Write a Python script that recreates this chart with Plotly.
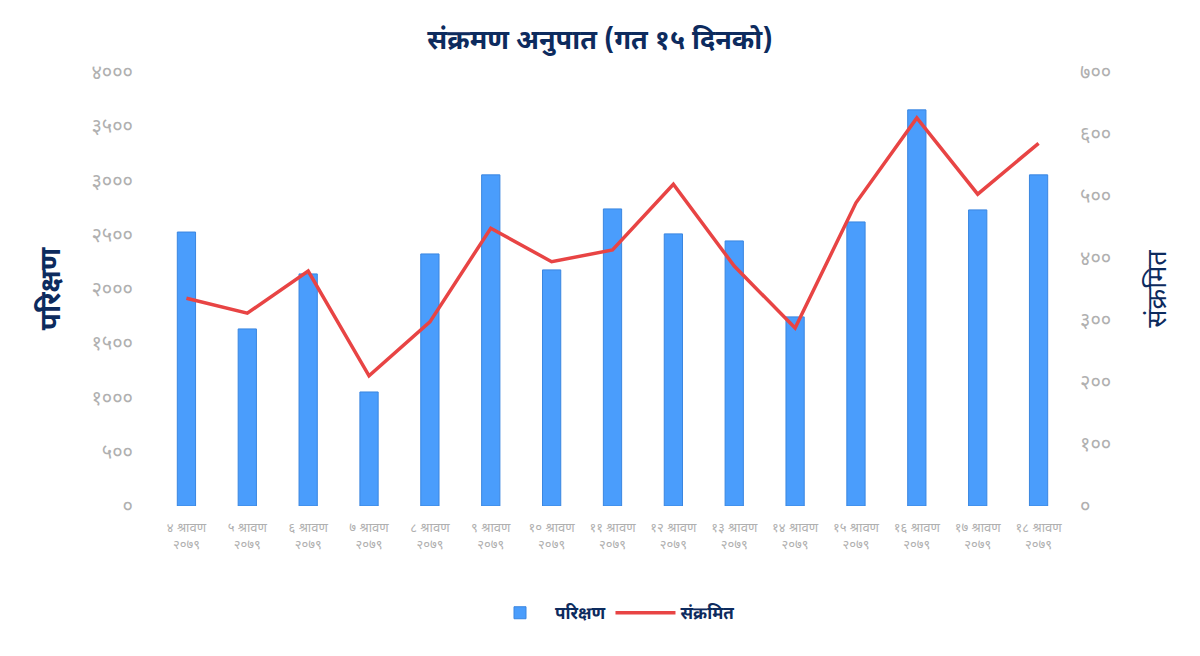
import plotly.graph_objects as go

categories = ["४ श्रावण<br>२०७९", "५ श्रावण<br>२०७९", "६ श्रावण<br>२०७९", "७ श्रावण<br>२०७९",
              "८ श्रावण<br>२०७९", "९ श्रावण<br>२०७९", "१० श्रावण<br>२०७९", "११ श्रावण<br>२०७९",
              "१२ श्रावण<br>२०७९", "१३ श्रावण<br>२०७९", "१४ श्रावण<br>२०७९", "१५ श्रावण<br>२०७९",
              "१६ श्रावण<br>२०७९", "१७ श्रावण<br>२०७९", "१८ श्रावण<br>२०७९"]
tests = [2525, 1632, 2139, 1051, 2323, 3052, 2176, 2738, 2508, 2443, 1743, 2618, 3651, 2729, 3052]
infected = [335, 311, 379, 210, 297, 448, 394, 413, 519, 387, 287, 489, 626, 503, 585]

left_vals = [0, 500, 1000, 1500, 2000, 2500, 3000, 3500, 4000]
left_text = ["०", "५००", "१०००", "१५००", "२०००", "२५००", "३०००", "३५००", "४०००"]
right_vals = [0, 100, 200, 300, 400, 500, 600, 700]
right_text = ["०", "१००", "२००", "३००", "४००", "५००", "६००", "७००"]

FONT = "Noto Sans Devanagari, Lohit Devanagari, Mangal, Noto Sans, sans-serif"
NAVY = "#0d2b5e"
GRAY = "#b0b0b0"

fig = go.Figure()
fig.add_trace(go.Bar(x=categories, y=tests, name="<b>परिक्षण</b>",
                     marker=dict(color="#4a9dfc", line=dict(color="#3a86e0", width=1)),
                     yaxis="y"))
fig.add_trace(go.Scatter(x=categories, y=infected, name="<b>संक्रमित</b>", mode="lines",
                         line=dict(color="#e84444", width=3.5), yaxis="y2"))

fig.update_layout(
    width=1200, height=656,
    paper_bgcolor="white", plot_bgcolor="white",
    margin=dict(l=156, r=131, t=72, b=150),
    font=dict(family=FONT, color=GRAY),
    title=dict(text="<b>संक्रमण अनुपात (गत १५ दिनको)</b>", x=0.5, xanchor="center",
               y=0.94, yanchor="middle", font=dict(size=27, color=NAVY, family=FONT)),
    bargap=0.7,
    showlegend=True,
    legend=dict(orientation="h", x=0.5, xanchor="center", y=-0.247, yanchor="middle",
                font=dict(size=17, color=NAVY, family=FONT), itemwidth=60,
                traceorder="normal"),
    xaxis=dict(showgrid=False, showline=False, zeroline=False, ticks="",
               tickfont=dict(size=13, color=GRAY), tickangle=0, ticklabelstandoff=12),
    yaxis=dict(range=[0, 4000], tickvals=left_vals, ticktext=left_text, showgrid=False,
               zeroline=False, showline=False, tickfont=dict(size=20, color=GRAY),
               ticklabelstandoff=22,
               title=dict(text="<b>परिक्षण</b>", font=dict(size=28, color=NAVY), standoff=22)),
    yaxis2=dict(range=[0, 700], tickvals=right_vals, ticktext=right_text, overlaying="y",
                side="right", showgrid=False, zeroline=False, showline=False,
                tickfont=dict(size=20, color=GRAY), ticklabelstandoff=10,
                title=dict(text="संक्रमित", font=dict(size=27, color=NAVY), standoff=36)),
)

fig.write_html("out.html")
